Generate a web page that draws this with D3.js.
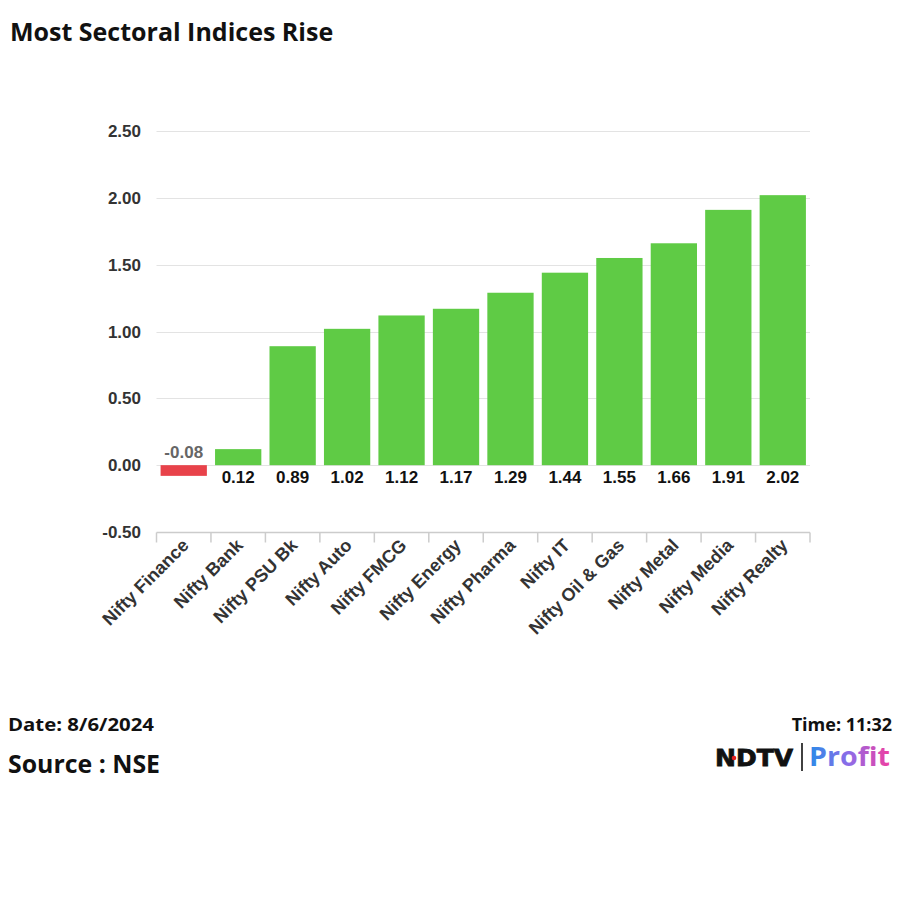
<!DOCTYPE html>
<html>
<head>
<meta charset="utf-8">
<script src="https://cdn.jsdelivr.net/npm/d3@7"></script>
<style>
  body { margin: 0; background: #fff; }
  svg text { font-family: "Liberation Sans", Arial, sans-serif; }
</style>
</head>
<body>
<div id="wrap"></div>
<script>
// chart data
var sectors = ["Nifty Finance", "Nifty Bank", "Nifty PSU Bk", "Nifty Auto", "Nifty FMCG", "Nifty Energy",
    "Nifty Pharma", "Nifty IT", "Nifty Oil & Gas", "Nifty Metal", "Nifty Media", "Nifty Realty"];
var changes = [-0.08, 0.12, 0.89, 1.02, 1.12, 1.17, 1.29, 1.44, 1.55, 1.66, 1.91, 2.02];
var yTicks = [-0.5, 0, 0.5, 1, 1.5, 2, 2.5];

// plain hyphen for negatives, like the source
var fmt = d3.formatLocale({ decimal: ".", thousands: ",", grouping: [3], currency: ["", ""], minus: "-" }).format(".2f");

var svg = d3.select("#wrap").append("svg")
    .attr("width", 900)
    .attr("height", 900);

// title
svg.append("text")
    .attr("x", 10).attr("y", 41)
    .style("font-family", "'Open Sans', 'Noto Sans', sans-serif")
    .style("font-size", "25px")
    .style("font-weight", "bold")
    .attr("fill", "#111")
    .text("Most Sectoral Indices Rise");

var plotL = 156.5, plotR = 810, plotT = 131, plotB = 532;

var x = d3.scaleBand().domain(sectors).range([plotL, plotR]).paddingInner(0.15).paddingOuter(0.075);
var y = d3.scaleLinear().domain([-0.5, 2.5]).range([plotB, plotT]);

// grid
svg.append("g").selectAll("line")
    .data(yTicks.filter(function(d) { return d > -0.5; }))
    .enter().append("line")
    .attr("x1", plotL).attr("x2", plotR)
    .attr("y1", function(d) { return Math.round(y(d)) + 0.5; })
    .attr("y2", function(d) { return Math.round(y(d)) + 0.5; })
    .attr("stroke", "#e3e3e3");

// y labels
svg.append("g").selectAll("text")
    .data(yTicks)
    .enter().append("text")
    .attr("x", 141)
    .attr("y", function(d) { return y(d) + 6; })
    .attr("text-anchor", "end")
    .style("font-size", "17px")
    .style("font-weight", "bold")
    .attr("fill", "#333")
    .text(function(d) { return fmt(d); });

// x axis
var xAxis = svg.append("g")
    .attr("transform", "translate(0," + (Math.round(plotB) + 0.5) + ")");
xAxis.append("line").attr("x1", plotL).attr("x2", plotR).attr("stroke", "#ccc").attr("stroke-width", 1.5);
var bounds = sectors.map(function(d) { return x(d) - x.step() * x.paddingInner() / 2; });
bounds.push(plotR);
xAxis.selectAll("line.tk")
    .data(bounds)
    .enter().append("line")
    .attr("class", "tk")
    .attr("x1", function(d) { return d; }).attr("x2", function(d) { return d; })
    .attr("y1", 0).attr("y2", 10)
    .attr("stroke", "#ccc").attr("stroke-width", 1.5);

xAxis.selectAll("text")
    .data(sectors)
    .enter().append("text")
    .attr("transform", function(d) {
        return "translate(" + (x(d) + x.bandwidth() / 2 + 6) + ",14) rotate(-45)";
    })
    .attr("text-anchor", "end")
    .style("font-size", "18px")
    .style("font-weight", "bold")
    .attr("fill", "#333")
    .text(function(d) { return d; });

// bars
svg.append("g").selectAll("rect")
    .data(changes)
    .enter().append("rect")
    .attr("x", function(d, i) { return x(sectors[i]); })
    .attr("width", x.bandwidth())
    .attr("y", function(d) { return y(Math.max(0, d)); })
    .attr("height", function(d) { return Math.abs(y(d) - y(0)); })
    .attr("fill", function(d) { return d < 0 ? "#e8424a" : "#5fcb45"; });

// value labels
svg.append("g").selectAll("text")
    .data(changes)
    .enter().append("text")
    .attr("x", function(d, i) { return x(sectors[i]) + x.bandwidth() / 2; })
    .attr("y", function(d) { return d < 0 ? y(0) - 7 : y(0) + 18; })
    .attr("text-anchor", "middle")
    .style("font-size", "17px")
    .style("font-weight", "bold")
    .attr("fill", function(d) { return d < 0 ? "#666" : "#111"; })
    .text(function(d) { return fmt(d); });

// footer
var foot = "'Open Sans', sans-serif";
svg.append("text").attr("x", 8).attr("y", 731)
    .style("font-family", foot).style("font-size", "18px").style("font-weight", "bold")
    .attr("textLength", 146).attr("lengthAdjust", "spacingAndGlyphs")
    .attr("fill", "#111").text("Date: 8/6/2024");
svg.append("text").attr("x", 8).attr("y", 773)
    .style("font-family", foot).style("font-size", "25px").style("font-weight", "bold")
    .attr("textLength", 152).attr("lengthAdjust", "spacingAndGlyphs")
    .attr("fill", "#111").text("Source : NSE");
svg.append("text").attr("x", 892).attr("y", 731).attr("text-anchor", "end")
    .style("font-family", foot).style("font-size", "18px").style("font-weight", "bold")
    .attr("fill", "#111").text("Time: 11:32");

// logo
var logo = svg.append("g").attr("transform", "translate(715,766)");
logo.append("text").attr("x", 0).attr("y", 0)
    .style("font-family", "'DejaVu Sans', sans-serif").style("font-size", "23px").style("font-weight", "900")
    .attr("textLength", 78).attr("lengthAdjust", "spacingAndGlyphs")
    .attr("stroke", "#111").attr("stroke-width", 0.8)
    .attr("fill", "#111").text("NDTV");
logo.append("circle").attr("cx", 19).attr("cy", -8).attr("r", 2.3).attr("fill", "#e02020");
logo.append("line").attr("x1", 87).attr("x2", 87).attr("y1", -23).attr("y2", 5)
    .attr("stroke", "#111").attr("stroke-width", 1.6);
var grad = svg.append("defs").append("linearGradient").attr("id", "pg")
    .attr("x1", "0").attr("x2", "1").attr("y1", "0").attr("y2", "0");
grad.append("stop").attr("offset", "0").attr("stop-color", "#2a8be8");
grad.append("stop").attr("offset", "0.5").attr("stop-color", "#8f6be8");
grad.append("stop").attr("offset", "1").attr("stop-color", "#f03fa0");
logo.append("text").attr("x", 94).attr("y", 0)
    .style("font-family", "'Open Sans', sans-serif").style("font-size", "27px").style("font-weight", "bold")
    .attr("textLength", 81).attr("lengthAdjust", "spacingAndGlyphs")
    .attr("fill", "url(#pg)").text("Profit");
</script>
</body>
</html>
